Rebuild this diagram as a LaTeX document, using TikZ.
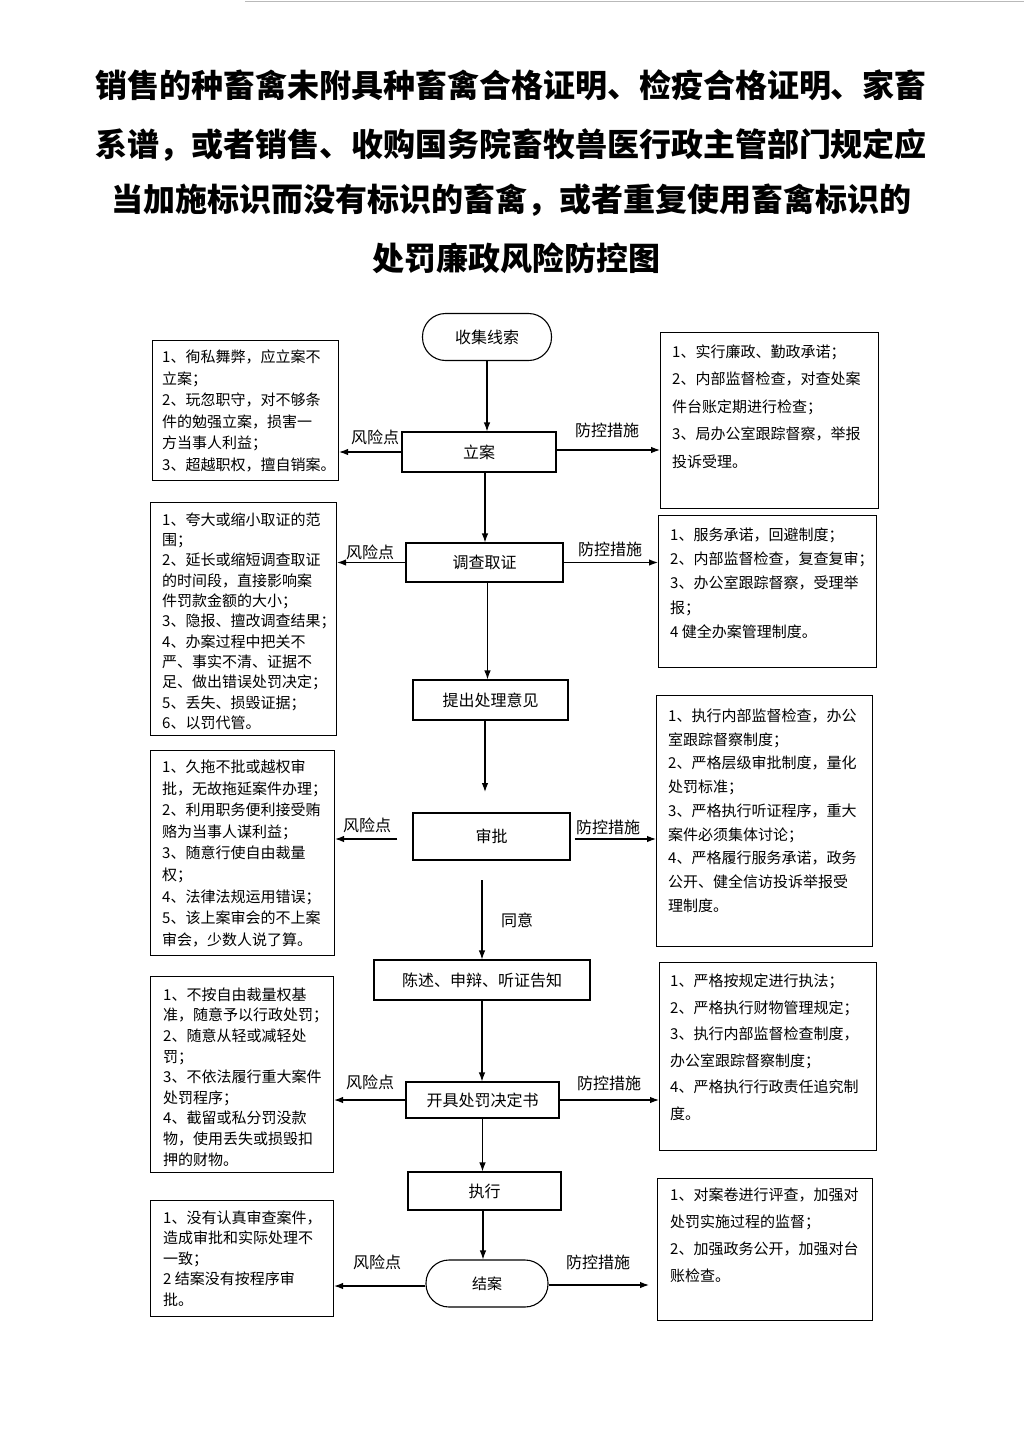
\documentclass[tikz,border=0pt]{standalone}
\usepackage{fontspec}
\setmainfont{Noto Sans CJK SC}
\usetikzlibrary{arrows.meta}
\tikzset{
 arr/.style={draw, line width=1.1pt, -{Latex[length=9pt,width=6.5pt]}},
 proc/.style={draw, line width=1.1pt, inner sep=0pt, font=\fontsize{16}{18}\selectfont},
 term/.style={proc, rounded corners=23pt},
 infobox/.style={draw, line width=1.1pt, anchor=north west, inner sep=0pt},
 infotext/.style={anchor=north west, inner sep=0pt, align=left, font=\fontsize{15}{#1}\selectfont},
 lbl/.style={font=\fontsize{16}{18}\selectfont, inner sep=1pt},
 ttl/.style={font=\fontsize{32}{36}\selectfont\bfseries, inner sep=0pt},
}
\begin{document}
\begin{tikzpicture}[x=1pt,y=-1pt]
\fill[white] (0,0) rectangle (1024,1448);
\useasboundingbox (0,0) rectangle (1024,1448);
\draw[gray!55, line width=1pt] (245,1.5) -- (1024,1.5);

% title
\node[ttl] (t1) at (511,85) {销售的种畜禽未附具种畜禽合格证明、检疫合格证明、家畜};
\node[ttl] (t2) at (511,145) {系谱，或者销售、收购国务院畜牧兽医行政主管部门规定应};
\node[ttl] (t3) at (511,200) {当加施标识而没有标识的畜禽，或者重复使用畜禽标识的};
\node[ttl] (t4) at (516,258) {处罚廉政风险防控图};

% flow nodes
\node[term, minimum width=129pt, minimum height=47pt] (sj) at (487,337) {收集线索};
\node[proc, minimum width=154pt, minimum height=40pt] (la) at (479,452) {立案};
\node[proc, minimum width=157pt, minimum height=39pt] (dc) at (484.5,562.5) {调查取证};
\node[proc, minimum width=155pt, minimum height=40pt] (tc) at (490.5,700) {提出处理意见};
\node[proc, minimum width=157pt, minimum height=47pt] (sp) at (491.5,836.5) {审批};
\node[proc, minimum width=216pt, minimum height=40pt] (cs) at (482,980) {陈述、申辩、听证告知};
\node[proc, minimum width=153pt, minimum height=36pt] (kj) at (482.5,1100) {开具处罚决定书};
\node[proc, minimum width=153pt, minimum height=38pt] (zx) at (484.5,1191) {执行};
\node[term, minimum width=122pt, minimum height=47pt, font=\fontsize{15}{17}\selectfont] (ja) at (487,1283.5) {结案};

% left boxes
\node[infobox, minimum width=186pt, minimum height=140pt] (L1) at (152,340) {};
\node[infotext=21.6pt] (L1t) at ([xshift=10pt,yshift=-9.5pt]L1.north west) {1、徇私舞弊，应立案不\\立案；\\2、玩忽职守，对不够条\\件的勉强立案，损害一\\方当事人利益；\\3、超越职权，擅自销案。};

\node[infobox, minimum width=186pt, minimum height=233pt] (L2) at (150,502) {};
\node[infotext=20.3pt] (L2t) at ([xshift=12pt,yshift=-10.5pt]L2.north west) {1、夸大或缩小取证的范\\围；\\2、延长或缩短调查取证\\的时间段，直接影响案\\件罚款金额的大小；\\3、隐报、擅改调查结果；\\4、办案过程中把关不\\严、事实不清、证据不\\足、做出错误处罚决定；\\5、丢失、损毁证据；\\6、以罚代管。};

\node[infobox, minimum width=184pt, minimum height=205pt] (L3) at (150,750) {};
\node[infotext=21.6pt] (L3t) at ([xshift=12pt,yshift=-9.5pt]L3.north west) {1、久拖不批或越权审\\批，无故拖延案件办理；\\2、利用职务便利接受贿\\赂为当事人谋利益；\\3、随意行使自由裁量\\权；\\4、法律法规运用错误；\\5、该上案审会的不上案\\审会，少数人说了算。};

\node[infobox, minimum width=183pt, minimum height=196pt] (L4) at (150,976) {};
\node[infotext=20.6pt] (L4t) at ([xshift=13pt,yshift=-11.5pt]L4.north west) {1、不按自由裁量权基\\准，随意予以行政处罚；\\2、随意从轻或减轻处\\罚；\\3、不依法履行重大案件\\处罚程序；\\4、截留或私分罚没款\\物，使用丢失或损毁扣\\押的财物。};

\node[infobox, minimum width=183pt, minimum height=116pt] (L5) at (150,1200) {};
\node[infotext=20.5pt] (L5t) at ([xshift=13pt,yshift=-10.5pt]L5.north west) {1、没有认真审查案件，\\造成审批和实际处理不\\一致；\\2 结案没有按程序审\\批。};

% right boxes
\node[infobox, minimum width=218pt, minimum height=176pt] (R1) at (660,332) {};
\node[infotext=27.5pt] (R1t) at ([xshift=12pt,yshift=-12.5pt]R1.north west) {1、实行廉政、勤政承诺；\\2、内部监督检查，对查处案\\件台账定期进行检查；\\3、局办公室跟踪督察，举报\\投诉受理。};

\node[infobox, minimum width=218pt, minimum height=152pt] (R2) at (658,515) {};
\node[infotext=24.25pt] (R2t) at ([xshift=12pt,yshift=-12.5pt]R2.north west) {1、服务承诺，回避制度；\\2、内部监督检查，复查复审；\\3、办公室跟踪督察，受理举\\报；\\4 健全办案管理制度。};

\node[infobox, minimum width=216pt, minimum height=251pt] (R3) at (656,695) {};
\node[infotext=23.75pt] (R3t) at ([xshift=12pt,yshift=-13.5pt]R3.north west) {1、执行内部监督检查，办公\\室跟踪督察制度；\\2、严格层级审批制度，量化\\处罚标准；\\3、严格执行听证程序，重大\\案件必须集体讨论；\\4、严格履行服务承诺，政务\\公开、健全信访投诉举报受\\理制度。};

\node[infobox, minimum width=217pt, minimum height=188pt] (R4) at (659,962) {};
\node[infotext=26.6pt] (R4t) at ([xshift=11pt,yshift=-11.5pt]R4.north west) {1、严格按规定进行执法；\\2、严格执行财物管理规定；\\3、执行内部监督检查制度，\\办公室跟踪督察制度；\\4、严格执行行政责任追究制\\度。};

\node[infobox, minimum width=215pt, minimum height=142pt] (R5) at (657,1178) {};
\node[infotext=27pt] (R5t) at ([xshift=13pt,yshift=-9.5pt]R5.north west) {1、对案卷进行评查，加强对\\处罚实施过程的监督；\\2、加强政务公开，加强对台\\账检查。};

% vertical flow arrows
\draw[arr] (sj.south) -- (sj.south |- la.north);
\draw[arr] ([xshift=6pt]la.south) -- ([xshift=6pt]la.south |- dc.north);
\draw[arr] ([xshift=3pt]dc.south) -- ([xshift=3pt]dc.south |- tc.north);
\coordinate (p1) at (485,792);
\draw[arr] (tc.south -| p1) -- (p1);
\coordinate (q0) at (482,880);
\draw[arr] (q0) -- (q0 |- cs.north);
\node[lbl] (ty) at (517,920) {同意};
\draw[arr] (cs.south) -- (cs.south |- kj.north);
\draw[arr] (kj.south) -- (kj.south |- zx.north);
\draw[arr] ([xshift=-1.5pt]zx.south) -- ([xshift=-1.5pt]zx.south |- ja.north);

% side arrows and labels
\draw[arr] (la.west) -- (la.west -| L1.east);
\draw[arr] ([yshift=2pt]la.east) -- ([yshift=2pt]la.east -| R1.west);
\node[lbl] (f1) at (375,437) {风险点};
\node[lbl] (k1) at (607,430) {防控措施};

\draw[arr] (dc.west) -- (dc.west -| L2.east);
\draw[arr] (dc.east) -- (dc.east -| R2.west);
\node[lbl] (f2) at (370,552) {风险点};
\node[lbl] (k2) at (610,549) {防控措施};

\draw[arr] ([xshift=-15pt,yshift=-2.5pt]sp.west) -- ([yshift=-2.5pt]sp.west -| L3.east);
\draw[arr] ([xshift=4pt,yshift=-2.5pt]sp.east) -- ([yshift=-2.5pt]sp.east -| R3.west);
\node[lbl] (f3) at (367,825) {风险点};
\node[lbl] (k3) at (608,827) {防控措施};

\draw[arr] (kj.west) -- (kj.west -| L4.east);
\draw[arr] (kj.east) -- (kj.east -| R4.west);
\node[lbl] (f4) at (370,1082) {风险点};
\node[lbl] (k4) at (609,1083) {防控措施};

\draw[arr] ([yshift=-2.5pt]ja.west) -- ([yshift=-2.5pt]ja.west -| L5.east);
\draw[arr] ([yshift=-1.5pt]ja.east) -- ([yshift=-1.5pt,xshift=-8pt]ja.east -| R5.west);
\node[lbl] (f5) at (377,1262) {风险点};
\node[lbl] (k5) at (598,1262) {防控措施};
\end{tikzpicture}
\end{document}
